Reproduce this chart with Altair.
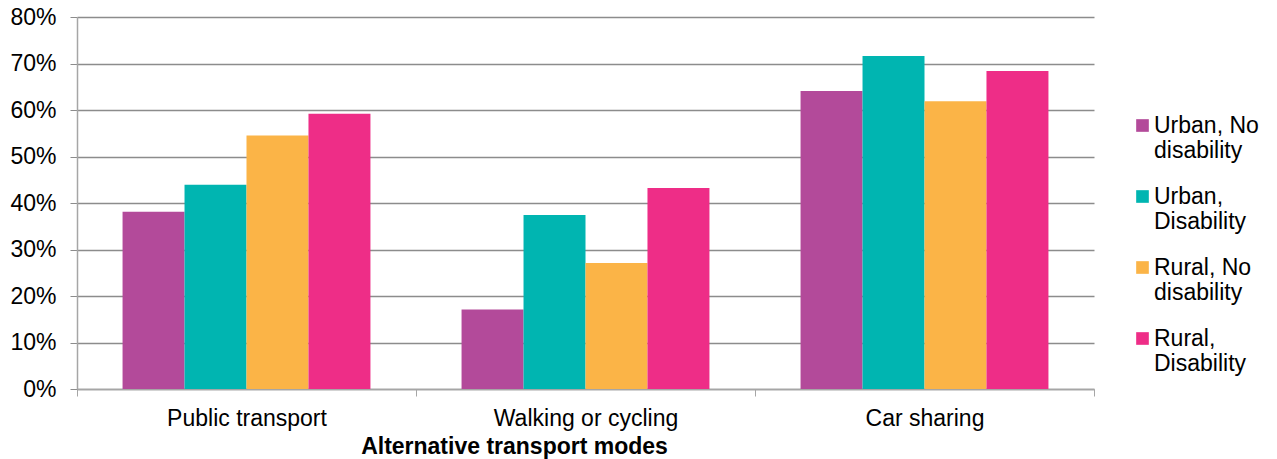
import altair as alt
import pandas as pd

categories = ["Public transport", "Walking or cycling", "Car sharing"]
groups = ["Urban, No disability", "Urban, Disability", "Rural, No disability", "Rural, Disability"]
urban_no = [38.1, 17.1, 64.1]
urban_dis = [43.9, 37.4, 71.6]
rural_no = [54.5, 27.1, 61.9]
rural_dis = [59.2, 43.2, 68.4]
colors = ["#B34A9A", "#00B5B1", "#FBB447", "#EE2D87"]

series = [urban_no, urban_dis, rural_no, rural_dis]
rows = []
for g, vals in zip(groups, series):
    for c, v in zip(categories, vals):
        rows.append({"mode": c, "group": g, "value": v / 100.0})
df = pd.DataFrame(rows)

FONT = "Liberation Sans"
FS = 23

chart = alt.Chart(df).mark_bar(stroke=None).encode(
    x=alt.X("mode:N", sort=categories,
            scale=alt.Scale(paddingInner=0, paddingOuter=0),
            axis=alt.Axis(title="Alternative transport modes", labelAngle=0,
                          tickBand="extent", tickSize=7, tickColor="#A6A6A6",
                          domainColor="#A6A6A6", domainWidth=1.5,
                          labelFontSize=FS, labelFont=FONT, labelColor="#000000",
                          labelPadding=11, labelLimit=400,
                          titleFontSize=FS, titleFont=FONT, titleFontWeight="bold",
                          titleColor="#000000", titlePadding=5, titleX=437,
                          grid=False)),
    xOffset=alt.XOffset("group:N", sort=groups,
                        scale=alt.Scale(paddingInner=0, paddingOuter=0.735)),
    y=alt.Y("value:Q",
            scale=alt.Scale(domain=[0, 0.8], nice=False),
            axis=alt.Axis(title=None, format=".0%", values=[0, .1, .2, .3, .4, .5, .6, .7, .8],
                          tickSize=7, tickColor="#8C8C8C", domainColor="#A6A6A6",
                          domainWidth=1.5, gridColor="#8C8C8C", gridWidth=1.5,
                          labelFontSize=FS, labelFont=FONT, labelColor="#000000",
                          labelPadding=14)),
    color=alt.Color("group:N", sort=groups,
                    scale=alt.Scale(domain=groups, range=colors),
                    legend=alt.Legend(title=None, orient="none", legendX=1054, legendY=97,
                                      symbolType="square", symbolSize=160,
                                      symbolStrokeWidth=0, labelFontSize=FS,
                                      labelFont=FONT, labelColor="#000000",
                                      labelExpr="[substring(datum.label, 0, lastindexof(datum.label, ' ')), substring(datum.label, lastindexof(datum.label, ' ') + 1)]",
                                      labelBaseline="middle", labelOffset=0,
                                      rowPadding=22, labelLimit=200)),
).properties(
    width=1017, height=372,
    autosize=alt.AutoSizeParams(type="none"),
    padding={"left": 69, "top": 9, "right": 175, "bottom": 70},
).configure_view(stroke=None)

chart.save("out.html", embed_options={"renderer": "svg", "actions": False})
